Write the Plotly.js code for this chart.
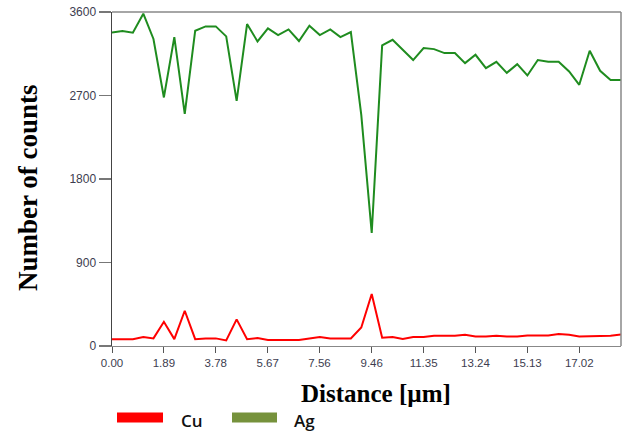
<!DOCTYPE html>
<html>
<head>
<meta charset="utf-8">
<script src="https://cdn.plot.ly/plotly-3.0.1.min.js"></script>
<style>
html,body{margin:0;padding:0;background:#fff;}
#chart{width:629px;height:433px;}
</style>
</head>
<body>
<div id="chart"></div>
<script>
// Distance along the line scan (µm)
var distance = [0.00,0.38,0.76,1.14,1.51,1.89,2.27,2.65,3.03,3.41,
                3.78,4.16,4.54,4.92,5.30,5.68,6.05,6.43,6.81,7.19,
                7.57,7.95,8.32,8.70,9.08,9.46,9.84,10.22,10.59,10.97,
                11.35,11.73,12.11,12.49,12.86,13.24,13.62,14.00,14.38,14.76,
                15.13,15.51,15.89,16.27,16.65,17.02,17.40,17.78,18.16,18.54];

// Ag counts
var agCounts = [3380,3395,3377,3582,3309,2679,3330,2502,3398,3445,
                3445,3337,2643,3470,3283,3423,3352,3412,3287,3452,
                3352,3412,3330,3384,2490,1218,3240,3300,3193,3082,
                3211,3200,3157,3157,3049,3139,2995,3063,2944,3038,
                2916,3082,3063,3063,2959,2815,3182,2966,2866,2866];

// Cu counts
var cuCounts = [74,74,74,96,82,261,74,380,74,82,
                82,60,287,74,85,64,64,64,64,82,
                96,82,82,82,200,560,89,96,75,96,
                96,110,110,110,121,103,103,110,103,103,
                114,114,114,128,121,103,103,110,110,125];

var xTickLabels = ["0.00","1.89","3.78","5.67","7.56","9.46","11.35","13.24","15.13","17.02"];
var yTickLabels = ["0","900","1800","2700","3600"];

var traces = [
  {x: distance, y: agCounts, type: 'scatter', mode: 'lines', name: 'Ag',
   line: {color: '#1f8c1f', width: 2}, showlegend: false},
  {x: distance, y: cuCounts, type: 'scatter', mode: 'lines', name: 'Cu',
   line: {color: '#ff0000', width: 2}, showlegend: false}
];

var titleFont = {family: 'Liberation Serif, Times New Roman, serif', color: '#000', weight: 'bold'};

var layout = {
  width: 629, height: 433,
  margin: {l: 112, r: 8, t: 12, b: 87},
  paper_bgcolor: '#ffffff', plot_bgcolor: '#ffffff',
  showlegend: false,
  xaxis: {
    range: [0, distance[distance.length - 1]],
    tickmode: 'array',
    tickvals: xTickLabels.map(parseFloat),
    ticktext: xTickLabels,
    ticks: 'outside', ticklen: 6, tickcolor: '#555', tickwidth: 1,
    showgrid: false, zeroline: false,
    showline: true, linecolor: '#888', linewidth: 1,
    tickfont: {family: 'Arial, Liberation Sans, sans-serif', size: 11.5, color: '#3d3d4f'},
    title: {text: ''}
  },
  yaxis: {
    range: [0, 3600],
    tickmode: 'array',
    tickvals: yTickLabels.map(Number),
    ticktext: yTickLabels,
    ticks: 'outside', ticklen: 12, tickcolor: '#777', tickwidth: 1.5,
    showgrid: false, zeroline: false,
    showline: true, linecolor: '#444', linewidth: 1.5,
    tickfont: {family: 'Arial, Liberation Sans, sans-serif', size: 12, color: '#3d3d4f'},
    title: {text: ''}
  },
  shapes: [
    {type: 'line', xref: 'paper', yref: 'paper', x0: 0, x1: 1, y0: 1, y1: 1,
     line: {color: '#888', width: 1.5}},
    {type: 'line', xref: 'paper', yref: 'paper', x0: 1, x1: 1, y0: 0, y1: 1,
     line: {color: '#888', width: 1.5}},
    // legend swatches
    {type: 'rect', xref: 'paper', yref: 'paper',
     x0: (117 - 112) / 509, x1: (163 - 112) / 509,
     y0: -(422.5 - 346) / 334, y1: -(412.5 - 346) / 334,
     fillcolor: '#ff0000', line: {width: 0}},
    {type: 'rect', xref: 'paper', yref: 'paper',
     x0: (232 - 112) / 509, x1: (277 - 112) / 509,
     y0: -(422.5 - 346) / 334, y1: -(412.5 - 346) / 334,
     fillcolor: '#76923c', line: {width: 0}}
  ],
  annotations: [
    {text: 'Number of counts', xref: 'paper', yref: 'paper',
     x: (28 - 112) / 509, y: (346 - 188) / 334, textangle: -90,
     xanchor: 'center', yanchor: 'middle', showarrow: false,
     font: Object.assign({size: 27}, titleFont)},
    {text: 'Distance [µm]', xref: 'paper', yref: 'paper',
     x: (376 - 112) / 509, y: -(393 - 346) / 334,
     xanchor: 'center', yanchor: 'middle', showarrow: false,
     font: Object.assign({size: 25}, titleFont)},
    {text: 'Cu', xref: 'paper', yref: 'paper', x: (179 - 112) / 509, y: -(420 - 346) / 334,
     xanchor: 'left', yanchor: 'middle', showarrow: false,
     font: {family: 'Open Sans, Noto Sans, sans-serif', size: 17, color: '#111', weight: 600}},
    {text: 'Ag', xref: 'paper', yref: 'paper', x: (292 - 112) / 509, y: -(420 - 346) / 334,
     xanchor: 'left', yanchor: 'middle', showarrow: false,
     font: {family: 'Open Sans, Noto Sans, sans-serif', size: 17, color: '#111', weight: 600}}
  ]
};

Plotly.newPlot('chart', traces, layout, {staticPlot: true, displayModeBar: false});
</script>
</body>
</html>
